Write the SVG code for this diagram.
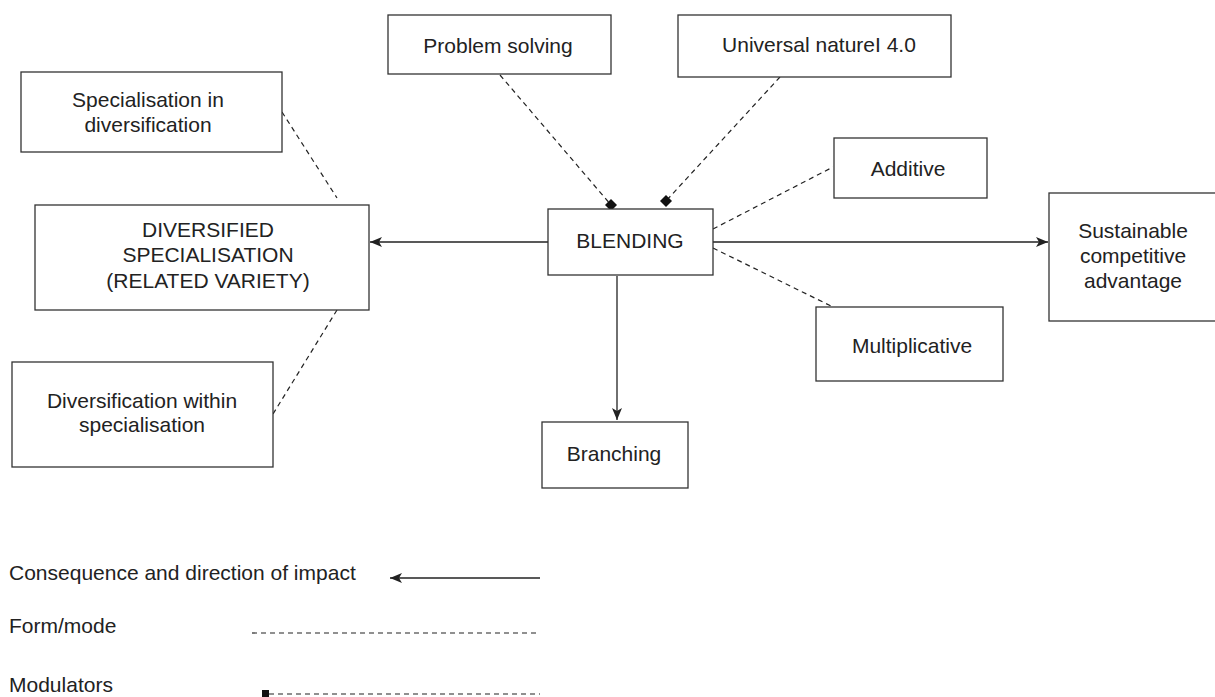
<svg xmlns="http://www.w3.org/2000/svg" width="1215" height="697" viewBox="0 0 1215 697">
<defs>
<style>
.box{fill:#fff;stroke:#333;stroke-width:1.3}
.t{font-family:"Liberation Sans",Arial,sans-serif;font-size:21px;fill:#222;text-anchor:middle;dominant-baseline:central}
.tl{font-family:"Liberation Sans",Arial,sans-serif;font-size:21px;fill:#222}
.solid{stroke:#222;stroke-width:1.3;fill:none}
.dash{stroke:#222;stroke-width:1.2;fill:none;stroke-dasharray:5 4}
</style>
<marker id="arr" viewBox="0 0 12 10" refX="12" refY="5" markerWidth="12" markerHeight="10" markerUnits="userSpaceOnUse" orient="auto">
<path d="M0,0 L12,5 L0,10 L3,5 z" fill="#222"/>
</marker>
</defs>
<rect width="1215" height="697" fill="#fff"/>

<g id="connectors">
<line class="solid" x1="548" y1="242" x2="370" y2="242" marker-end="url(#arr)"/>
<line class="solid" x1="713" y1="242" x2="1048" y2="242" marker-end="url(#arr)"/>
<line class="solid" x1="617" y1="276" x2="617" y2="420" marker-end="url(#arr)"/>
<line class="dash" x1="500" y1="75" x2="611" y2="205"/>
<line class="dash" x1="780" y1="77" x2="666" y2="201"/>
<line class="dash" x1="713" y1="229" x2="833" y2="167"/>
<line class="dash" x1="713" y1="248" x2="833" y2="307"/>
<line class="dash" x1="282" y1="112" x2="337" y2="198"/>
<line class="dash" x1="337" y1="310" x2="273" y2="414"/>
<path d="M611,199 L617,205 L611,211 L605,205 z" fill="#111"/>
<path d="M666,195 L672,201 L666,207 L660,201 z" fill="#111"/>
</g>

<g id="node-problem-solving">
<rect class="box" x="388" y="15" width="223" height="59"/>
<text class="t" x="498" y="45">Problem solving</text>
</g>
<g id="node-universal">
<rect class="box" x="678" y="15" width="273" height="62"/>
<text class="t" x="819" y="44">Universal natureI 4.0</text>
</g>
<g id="node-specialisation-in">
<rect class="box" x="21" y="72" width="261" height="80"/>
<text class="t" x="148" y="99">Specialisation in</text>
<text class="t" x="148" y="124">diversification</text>
</g>
<g id="node-diversified">
<rect class="box" x="35" y="205" width="334" height="105"/>
<text class="t" x="208" y="229">DIVERSIFIED</text>
<text class="t" x="208" y="254">SPECIALISATION</text>
<text class="t" x="208" y="280">(RELATED VARIETY)</text>
</g>
<g id="node-diversification-within">
<rect class="box" x="12" y="362" width="261" height="105"/>
<text class="t" x="142" y="400">Diversification within</text>
<text class="t" x="142" y="424">specialisation</text>
</g>
<g id="node-blending">
<rect class="box" x="548" y="209" width="165" height="66"/>
<text class="t" x="630" y="240">BLENDING</text>
</g>
<g id="node-additive">
<rect class="box" x="834" y="138" width="153" height="60"/>
<text class="t" x="908" y="168">Additive</text>
</g>
<g id="node-sustainable">
<rect class="box" x="1049" y="193" width="170" height="128"/>
<text class="t" x="1133" y="230">Sustainable</text>
<text class="t" x="1133" y="255">competitive</text>
<text class="t" x="1133" y="280">advantage</text>
</g>
<g id="node-multiplicative">
<rect class="box" x="816" y="307" width="187" height="74"/>
<text class="t" x="912" y="345">Multiplicative</text>
</g>
<g id="node-branching">
<rect class="box" x="542" y="422" width="146" height="66"/>
<text class="t" x="614" y="453">Branching</text>
</g>

<g id="legend">
<text class="tl" x="9" y="580">Consequence and direction of impact</text>
<line class="solid" x1="540" y1="578" x2="390" y2="578" marker-end="url(#arr)"/>
<text class="tl" x="9" y="633">Form/mode</text>
<line class="dash" x1="252" y1="633" x2="540" y2="633"/>
<text class="tl" x="9" y="692">Modulators</text>
<rect x="262" y="690" width="7" height="7" fill="#111"/>
<line class="dash" x1="269" y1="694" x2="540" y2="694"/>
</g>
</svg>
